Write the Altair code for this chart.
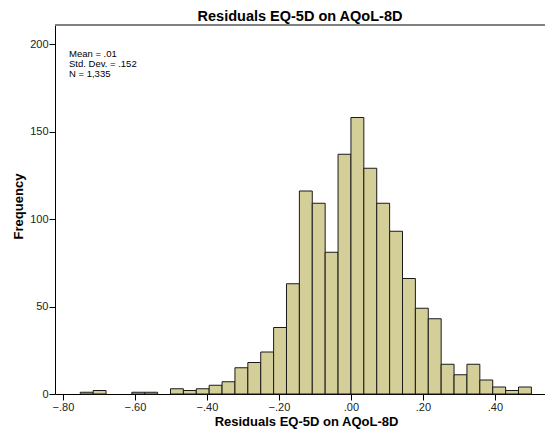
import altair as alt
import pandas as pd

# bin lower edges (residual values) and counts
bin_start = [-0.7518, -0.7160, -0.6802, -0.6444, -0.6086, -0.5728, -0.5370,
             -0.5012, -0.4654, -0.4296, -0.3938, -0.3580, -0.3222, -0.2864,
             -0.2506, -0.2148, -0.1790, -0.1432, -0.1074, -0.0716, -0.0358,
             0.0000, 0.0358, 0.0716, 0.1074, 0.1432, 0.1790, 0.2148, 0.2506,
             0.2864, 0.3222, 0.3580, 0.3938, 0.4296, 0.4654]
bin_end = [-0.7160, -0.6802, -0.6444, -0.6086, -0.5728, -0.5370, -0.5012,
           -0.4654, -0.4296, -0.3938, -0.3580, -0.3222, -0.2864, -0.2506,
           -0.2148, -0.1790, -0.1432, -0.1074, -0.0716, -0.0358, 0.0000,
           0.0358, 0.0716, 0.1074, 0.1432, 0.1790, 0.2148, 0.2506, 0.2864,
           0.3222, 0.3580, 0.3938, 0.4296, 0.4654, 0.5012]
counts = [1, 2, 0, 0, 1, 1, 0,
          3, 2, 3, 5, 7, 15, 18,
          24, 38, 63, 116, 109, 81, 137,
          158, 129, 109, 93, 66, 49, 43, 17,
          11, 17, 8, 4, 2, 4]

x_ticks = [-0.8, -0.6, -0.4, -0.2, 0.0, 0.2, 0.4]
y_ticks = [0, 50, 100, 150, 200]
stats_lines = ["Mean = .01", "Std. Dev. = .152", "N = 1,335"]

df = pd.DataFrame({"start": bin_start, "end": bin_end, "count": counts})
df = df[df["count"] > 0]

FONT = "Liberation Sans"
W, H = 490, 369
X_MIN, X_MAX = -0.822, 0.539
Y_TOP = 210.86

x_scale = alt.Scale(domain=[X_MIN, X_MAX], nice=False, zero=False)
y_scale = alt.Scale(domain=[0, Y_TOP], nice=False, zero=True)

bars = alt.Chart(df).mark_bar(
    color="#D4CF98", stroke="#1a1a1a", strokeWidth=1, opacity=1
).encode(
    x=alt.X("start:Q", scale=x_scale,
            axis=alt.Axis(values=x_ticks, title="Residuals EQ-5D on AQoL-8D",
                          labelExpr="replace(format(datum.value, '.2f'), '0.', '.')",
                          grid=False, domainColor="#000000", tickColor="#000000",
                          tickSize=6, labelFont=FONT, labelFontSize=11,
                          labelColor="#222222", labelPadding=1,
                          titleFont=FONT, titleFontSize=13, titleFontWeight="bold",
                          titleColor="#000000", titlePadding=3, titleX=251)),
    x2="end:Q",
    y=alt.Y("count:Q", scale=y_scale,
            axis=alt.Axis(values=y_ticks, title="Frequency", grid=False,
                          domainColor="#000000", tickColor="#000000", tickSize=6,
                          labelFont=FONT, labelFontSize=11, labelColor="#222222",
                          labelPadding=1,
                          titleFont=FONT, titleFontSize=13, titleFontWeight="bold",
                          titleColor="#000000", titlePadding=4, titleY=181)),
    y2=alt.datum(0),
)

top_line = alt.Chart(pd.DataFrame({"a": [0]})).mark_rule(
    color="#808080", strokeWidth=2, opacity=1
).encode(x=alt.value(0), x2=alt.value(W), y=alt.value(0))

stats = alt.Chart(pd.DataFrame({"a": [0]})).mark_text(
    align="left", baseline="middle", font=FONT, fontSize=9.5, fontWeight="normal",
    color="#000000", lineHeight=10
).encode(
    x=alt.value(14),
    y=alt.value(29),
    text=alt.value(stats_lines),
)

chart = alt.layer(bars, top_line, stats).properties(
    width=W, height=H,
    title=alt.TitleParams("Residuals EQ-5D on AQoL-8D", font=FONT, fontSize=14.5,
                          fontWeight="bold", color="#000000", anchor="middle",
                          offset=0),
    autosize=alt.AutoSizeParams(type="none"),
    padding={"left": 47, "top": 17, "right": 0, "bottom": 36},
).configure_view(stroke=None).configure(background="#ffffff")

chart.save("out.html", embed_options={"renderer": "svg", "actions": False})
